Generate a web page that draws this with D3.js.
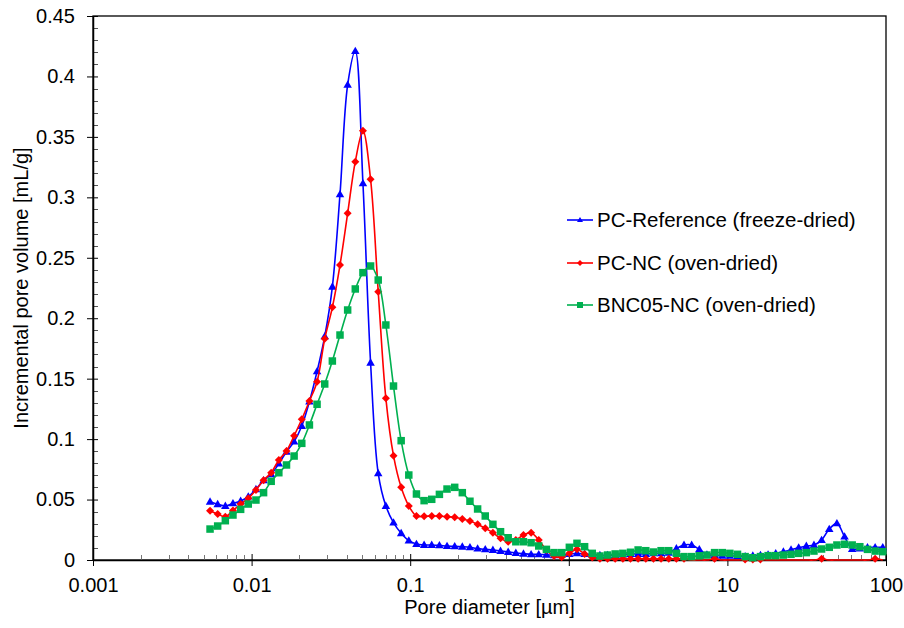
<!DOCTYPE html>
<html><head><meta charset="utf-8">
<script src="https://cdn.jsdelivr.net/npm/d3@7"></script>
<style>
body{margin:0;background:#fff}
svg{display:block}
text{font-family:"Liberation Sans",Arial,sans-serif;fill:#000}
</style>
</head><body>
<svg id="chart" width="904" height="628"></svg>
<script>
// Pore diameters [µm]
const diameters = [
 0.00547,0.00611,0.00683,0.00763,0.00853,0.00953,0.01065,0.01190,0.01329,0.01485,
 0.01660,0.01854,0.02072,0.02315,0.02587,0.02891,0.03230,0.03609,0.04033,0.04506,
 0.05035,0.05626,0.06286,0.07024,0.07848,0.08770,0.09799,0.1095,0.1224,0.1367,
 0.1528,0.1707,0.1908,0.2131,0.2381,0.2661,0.2973,0.3322,0.3712,0.4148,
 0.4634,0.5178,0.5786,0.6465,0.7224,0.8072,0.9020,1.008,1.126,1.258,
 1.406,1.571,1.755,1.961,2.192,2.449,2.736,3.058,3.417,3.818,
 4.266,4.767,5.326,5.951,6.650,7.430,8.302,9.277,10.36,11.58,
 12.94,14.46,16.16,18.05,20.17,22.54,25.19,28.14,31.45,35.14,
 39.26,43.87,49.02,54.78,61.21,68.39,76.42,85.39,95.41];

const seriesNames = ["PC-Reference (freeze-dried)","PC-NC (oven-dried)","BNC05-NC (oven-dried)"];

const pcReference = [
 0.0482,0.0461,0.0447,0.0469,0.0488,0.0524,0.0585,0.0659,0.0709,0.0797,
 0.0896,0.0979,0.1108,0.131,0.156,0.185,0.226,0.3025,0.393,0.421,
 0.3116,0.1632,0.0717,0.0447,0.0309,0.0221,0.016,0.0132,0.0124,0.0124,
 0.0121,0.0115,0.0113,0.011,0.0105,0.0094,0.0088,0.0083,0.0075,0.0066,
 0.0058,0.0052,0.0047,0.0047,0.0044,0.0039,0.0045,0.005,0.0055,0.005,
 0.0045,0.004,0.004,0.004,0.0045,0.005,0.005,0.005,0.0055,0.0055,
 0.006,0.0095,0.0124,0.0124,0.0088,0.0045,0.004,0.0035,0.0035,0.003,
 0.003,0.0035,0.004,0.0045,0.0055,0.0068,0.0085,0.0102,0.0116,0.0124,
 0.0165,0.0256,0.0303,0.0193,0.009,0.0095,0.0105,0.0105,0.0105];

const pcNC = [
 0.0408,0.038,0.0358,0.041,0.0463,0.051,0.058,0.066,0.0722,0.0827,
 0.0902,0.1028,0.1164,0.1315,0.1475,0.183,0.209,0.244,0.2868,0.3295,
 0.3551,0.3149,0.222,0.1337,0.0863,0.0601,0.0447,0.0364,0.0361,0.0364,
 0.0364,0.0358,0.0353,0.0339,0.0323,0.0295,0.0262,0.0226,0.0179,0.0151,
 0.0165,0.0207,0.0226,0.0165,0.0083,0.0033,0.0022,0.0055,0.0088,0.005,
 0.002,0.001,0.001,0.001,0.001,0.001,0.001,0.001,0.001,0.001,
 0.001,0.001,0.001,0,0,0,0.001,0,0,0,
 0.0005,0.0005,0.0005,0,0,0,0,0,0,0,
 0.001,0,0,0,0,0,0,0.001,0];

const bnc05NC = [
 0.0256,0.0281,0.0325,0.0372,0.0419,0.0463,0.0496,0.0557,0.0651,0.0722,
 0.0786,0.086,0.0965,0.1117,0.1288,0.1456,0.1646,0.1861,0.2068,0.2242,
 0.2377,0.2432,0.2316,0.1944,0.1439,0.0987,0.0703,0.0546,0.0491,0.0502,
 0.0543,0.0587,0.0601,0.0557,0.0486,0.0422,0.0364,0.0295,0.0234,0.0184,
 0.0151,0.0151,0.0143,0.0116,0.0088,0.0061,0.0061,0.0105,0.0138,0.011,
 0.0055,0.0033,0.0041,0.005,0.0055,0.0064,0.0083,0.0077,0.0066,0.0077,
 0.0077,0.0055,0.0028,0.0028,0.0035,0.0041,0.0061,0.0061,0.0055,0.0047,
 0.0028,0.0019,0.0028,0.0036,0.0036,0.0041,0.0047,0.0055,0.0061,0.0074,
 0.0091,0.0105,0.0124,0.013,0.0124,0.011,0.0088,0.0074,0.0069];

const xTickValues = [0.001,0.01,0.1,1,10,100];
const xTickLabels = ["0.001","0.01","0.1","1","10","100"];
const yTickValues = [0,0.05,0.1,0.15,0.2,0.25,0.3,0.35,0.4,0.45];
const yTickLabels = ["0","0.05","0.1","0.15","0.2","0.25","0.3","0.35","0.4","0.45"];
const xTitle = "Pore diameter [µm]";
const yTitle = "Incremental pore volume [mL/g]";

const colors = ["#0000FF","#FF0000","#00B050"];
const markers = ["triangle","diamond","square"];

const L = 93, R = 886, T = 16, B = 560;
const svg = d3.select("#chart");
const x = d3.scaleLog().domain([0.001,100]).range([L,R]);
const y = d3.scaleLinear().domain([0,0.45]).range([B,T]);

// frame
svg.append("rect").attr("x",L).attr("y",T).attr("width",R-L).attr("height",B-T)
  .attr("fill","none").attr("stroke","#000").attr("stroke-width",1.3);

// Y minor ticks
const yMinor = d3.range(0,46).map(i=>i/100).filter(v=>Math.round(v*100)%5!==0);
svg.append("g").selectAll("line").data(yMinor).join("line")
  .attr("x1",L).attr("x2",L+5).attr("y1",d=>Math.round(y(d))+0.5).attr("y2",d=>Math.round(y(d))+0.5)
  .attr("stroke","#555").attr("stroke-width",1);

// Y axis
const yAxis = d3.axisLeft(y).tickValues(yTickValues).tickFormat((d,i)=>yTickLabels[i]).tickSizeInner(6).tickSizeOuter(0).tickPadding(12);
const gy = svg.append("g").attr("transform",`translate(${L},0)`).call(yAxis);
gy.select(".domain").attr("stroke","#000").attr("stroke-width",1.5);
gy.selectAll(".tick line").attr("x2",-6).attr("x1",5).attr("stroke","#000");
gy.selectAll(".tick text").attr("font-size",20).attr("font-family","Liberation Sans, Arial, sans-serif").attr("fill","#000");

// X minor ticks
const xMinor = [];
for (let e=-3;e<2;e++) for (let k=2;k<=9;k++) xMinor.push(k*Math.pow(10,e));
svg.append("g").selectAll("line").data(xMinor).join("line")
  .attr("x1",d=>Math.round(x(d))+0.5).attr("x2",d=>Math.round(x(d))+0.5).attr("y1",B).attr("y2",B-5)
  .attr("stroke","#777").attr("stroke-width",1);

// X axis
const xAxis = d3.axisBottom(x).tickValues(xTickValues).tickFormat((d,i)=>xTickLabels[i]).tickSizeInner(6).tickSizeOuter(0).tickPadding(12);
const gx = svg.append("g").attr("transform",`translate(0,${B})`).call(xAxis);
gx.select(".domain").attr("stroke","#000").attr("stroke-width",1.5);
gx.selectAll(".tick line").attr("y1",-6).attr("y2",6).attr("stroke","#000");
gx.selectAll(".tick text").attr("font-size",20).attr("font-family","Liberation Sans, Arial, sans-serif").attr("fill","#000");

// titles
svg.append("text").attr("x",(L+R)/2).attr("y",614).attr("text-anchor","middle").attr("font-size",20).text(xTitle);
svg.append("text").attr("transform",`translate(28,${(T+B)/2}) rotate(-90)`).attr("text-anchor","middle").attr("font-size",20).text(yTitle);

function markerPath(type, s){
  if(type==="triangle"){ const h=s*0.866; return `M0,${-h*0.6}L${s/2},${h*0.4}L${-s/2},${h*0.4}Z`; }
  if(type==="diamond"){ const r=s/2; return `M0,${-r}L${r},0L0,${r}L${-r},0Z`; }
  const r=s/2; return `M${-r},${-r}H${r}V${r}H${-r}Z`;
}

const allSeries = [pcReference,pcNC,bnc05NC];
const line = d3.line().x(d=>x(d.d)).y(d=>y(d.v)).curve(d3.curveCatmullRom.alpha(0.5));
const sizes = [8.5,8,7.5];

allSeries.forEach((vals,si)=>{
  const data = diameters.map((d,i)=>({d:d,v:vals[i]}));
  const g = svg.append("g");
  g.append("path").datum(data).attr("d",line).attr("fill","none")
    .attr("stroke",colors[si]).attr("stroke-width",1.6);
  g.selectAll("path.m").data(data.filter(p=>p.v>0)).join("path").attr("class","m")
    .attr("transform",p=>`translate(${x(p.d)},${y(p.v)})`)
    .attr("d",markerPath(markers[si],sizes[si])).attr("fill",colors[si]);
});

// legend
const legY = [220,263,305];
seriesNames.forEach((n,i)=>{
  const g = svg.append("g").attr("transform",`translate(0,${legY[i]})`);
  g.append("line").attr("x1",567).attr("x2",593).attr("y1",0).attr("y2",0).attr("stroke",colors[i]).attr("stroke-width",1.6);
  g.append("path").attr("transform","translate(580,0)").attr("d",markerPath(markers[i],6)).attr("fill",colors[i]);
  g.append("text").attr("x",597).attr("y",7).attr("font-size",20.5).text(n);
});
</script>
</body></html>
